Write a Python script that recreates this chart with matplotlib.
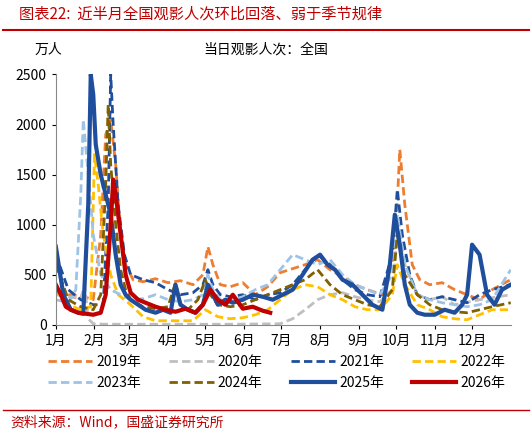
import matplotlib
matplotlib.use("Agg")
import matplotlib.pyplot as plt
import numpy as np

plt.rcParams['font.family'] = ['Noto Sans CJK SC', 'DejaVu Sans']

months = ["1月","2月","3月","4月","5月","6月","7月","8月","9月","10月","11月","12月"]
month_days = [0,31,59,90,120,151,181,212,243,273,304,334]

d19 = [0,10,20,30,36,40,44,48,52,56,62,70,80,90,100,110,118,122,126,132,140,150,160,170,180,190,200,210,220,230,240,250,262,272,276,280,286,292,300,310,320,330,340,350,365]
v19 = [320,300,290,250,900,1900,2050,1600,900,600,450,430,460,420,440,400,500,780,600,400,380,420,300,380,520,560,600,650,550,480,400,350,300,700,1750,1200,600,450,400,420,350,300,250,350,450]
d20 = [0,10,20,23,26,30,40,60,100,140,180,190,200,210,220,230,240,250,260,270,274,280,290,300,310,320,340,365]
v20 = [300,280,260,400,60,10,5,5,5,5,10,60,150,250,300,320,280,250,230,350,900,600,300,250,280,200,250,300]
d21 = [0,10,20,30,38,42,44,46,50,55,60,70,80,90,100,110,118,122,126,132,140,150,160,170,180,190,200,210,220,230,240,250,260,270,274,278,284,290,300,310,320,330,340,350,365]
v21 = [700,350,250,200,200,1200,2500,2000,1200,700,500,450,420,350,300,320,400,550,400,300,280,300,250,300,320,400,550,700,600,450,350,300,280,700,1350,900,500,300,250,280,250,220,300,350,400]
d22 = [0,10,20,28,31,34,38,44,50,60,70,80,90,100,110,120,130,140,150,160,170,180,190,200,210,220,230,240,250,260,270,274,280,290,300,310,320,330,340,350,365]
v22 = [350,200,150,180,1700,1400,900,500,300,200,80,40,40,40,40,150,80,60,70,100,150,250,350,400,380,300,250,180,150,150,300,600,400,200,150,80,60,50,100,150,150]
d23 = [0,10,16,20,22,26,30,36,44,52,60,70,80,90,100,110,118,122,126,132,140,150,160,170,180,190,200,210,220,230,240,250,260,270,274,280,290,300,310,320,330,340,350,365]
v23 = [250,220,350,1300,2050,1500,900,500,350,300,250,260,300,250,230,250,300,500,350,250,230,280,350,400,550,700,650,600,650,500,400,350,300,500,1100,600,300,250,220,200,180,200,250,550]
d24 = [0,10,20,30,36,40,42,44,48,52,56,60,70,80,90,96,100,106,114,120,124,130,140,150,160,170,180,190,200,210,220,230,240,250,260,270,274,280,290,300,310,320,330,340,350,365]
v24 = [600,250,180,150,300,1400,2200,1600,1000,550,350,250,180,160,180,420,200,150,250,450,300,200,180,200,250,300,350,400,450,550,400,300,250,200,180,350,900,500,300,200,150,130,120,150,180,220]
d25 = [0,6,12,18,22,26,28,30,32,36,40,44,48,52,56,60,66,72,80,86,92,96,100,106,112,118,122,126,130,136,142,150,158,166,174,182,190,198,206,212,218,224,230,238,246,254,262,268,272,276,280,284,290,296,304,312,320,326,330,334,340,346,352,358,365]
v25 = [780,300,150,120,110,1200,2500,2300,1800,1500,1300,1100,700,400,300,250,200,150,120,150,120,400,200,150,120,200,400,300,200,250,220,250,300,280,250,300,350,500,650,700,600,550,450,400,300,200,150,600,1100,800,400,200,120,100,100,150,120,200,300,800,700,300,200,350,400]
d26 = [0,4,8,12,18,24,30,36,40,44,46,48,52,56,60,66,72,80,88,96,104,112,118,124,130,136,142,150,158,166,172]
v26 = [400,300,180,150,120,110,100,120,300,1000,1450,1300,900,500,320,250,220,180,150,130,160,120,200,350,250,200,300,160,180,140,120]

series = [
    ("2019年", d19, v19, "#ed7d31", "--", 2.0),
    ("2020年", d20, v20, "#bfbfbf", "--", 2.0),
    ("2021年", d21, v21, "#1f4e9c", "--", 2.0),
    ("2022年", d22, v22, "#ffc000", "--", 2.0),
    ("2023年", d23, v23, "#9dc3e6", "--", 2.0),
    ("2024年", d24, v24, "#806000", "--", 2.0),
    ("2025年", d25, v25, "#1f4e9c", "-", 3.0),
    ("2026年", d26, v26, "#c00000", "-", 3.0),
]

fig = plt.figure(figsize=(5.32, 4.33), dpi=100)
ax = fig.add_axes([0.105, 0.25, 0.855, 0.578])
handles = []
for name, d, v, c, ls, lw in series:
    h, = ax.plot(d, v, color=c, ls=ls, lw=lw, label=name, dashes=(3, 1.5) if ls == "--" else (None, None))
    handles.append(h)
ax.set_xlim(0, 365)
ax.set_ylim(0, 2500)
ax.set_yticks([0, 500, 1000, 1500, 2000, 2500])
ax.set_xticks(month_days)
ax.set_xticklabels(months)
ax.tick_params(labelsize=10, length=3)
for s in ["top", "right"]:
    ax.spines[s].set_visible(False)
ax.spines["left"].set_color("#888888")
ax.spines["bottom"].set_color("#888888")

order = [0, 4, 1, 5, 2, 6, 3, 7]
hs = [handles[i] for i in order]
fig.text(0.035, 0.968, "图表22:  近半月全国观影人次环比回落、弱于季节规律", color="#c00000", fontsize=11, style="italic", va="center")
fig.add_artist(plt.Line2D([0.005, 0.995], [0.93, 0.93], color="#c00000", lw=1.5))
fig.text(0.065, 0.885, "万人", fontsize=10, va="center")
fig.text(0.5, 0.885, "当日观影人次：全国", fontsize=10, va="center", ha="center")
fig.legend(hs, [h.get_label() for h in hs], loc="lower center", bbox_to_anchor=(0.52, 0.07), ncol=4, frameon=False, fontsize=10,
           handlelength=3.2, columnspacing=2.0, handletextpad=0.3, labelspacing=0.5)
fig.add_artist(plt.Line2D([0.005, 0.995], [0.052, 0.052], color="#c00000", lw=1.0))
fig.text(0.02, 0.025, "资料来源：Wind，国盛证券研究所", color="#c00000", fontsize=10, style="italic", va="center")
fig.savefig("out.png", dpi=100)
